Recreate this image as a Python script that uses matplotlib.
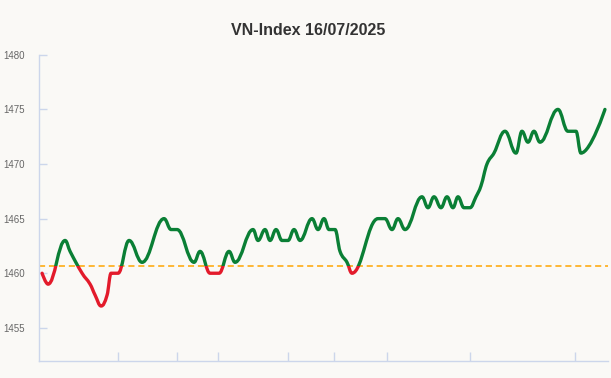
import numpy as np
import matplotlib
matplotlib.use('Agg')
import matplotlib.pyplot as plt
from matplotlib.path import Path
from matplotlib.patches import PathPatch, Rectangle

plt.rcParams['font.family'] = ['Liberation Sans', 'DejaVu Sans']

# intraday points (t = position along the session axis, v = index value)
t = [3, 9, 26, 31, 43, 51, 56, 62, 68, 72, 79, 90, 103, 125, 132, 138,
     155, 161, 171, 180, 190, 196, 214, 219, 226, 231, 237, 243, 249, 255,
     261, 273, 279, 285, 290, 296, 301, 308, 313, 339, 346, 353, 359, 366,
     383, 389, 395, 402, 408, 414, 419, 425, 431, 437, 442, 448, 455, 466,
     477, 483, 489, 495, 501, 519, 529, 537, 542, 566]
v = [1460, 1459, 1463, 1462, 1460, 1459, 1458, 1457, 1458, 1460, 1460, 1463,
     1461, 1465, 1464, 1464, 1461, 1462, 1460, 1460, 1462, 1461, 1464, 1463,
     1464, 1463, 1464, 1463, 1463, 1464, 1463, 1465, 1464, 1465, 1464, 1464,
     1462, 1461, 1460, 1465, 1465, 1464, 1465, 1464, 1467, 1466, 1467, 1466,
     1467, 1466, 1467, 1466, 1466, 1467, 1468, 1470, 1471, 1473, 1471, 1473,
     1472, 1473, 1472, 1475, 1473, 1473, 1471, 1475]
ref_close = 1460.64
x_ticks = [79, 137.5, 178.5, 249, 295, 348, 430.6, 536]
y_ticks = [1455, 1460, 1465, 1470, 1475, 1480]

GREEN = '#0a7f35'
RED = '#e31b2b'
AXIS = '#ccd6eb'
BG = '#faf9f6'


def spline_path(xs, ys, smoothing=1.5):
    # same control point rule as a highcharts "spline" series
    n = len(xs)
    left = [None] * n
    right = [None] * n
    right[0] = (xs[0], ys[0])
    left[-1] = (xs[-1], ys[-1])
    d = smoothing + 1
    for i in range(1, n - 1):
        px, py = xs[i], ys[i]
        lx, ly = xs[i - 1], ys[i - 1]
        nx, ny = xs[i + 1], ys[i + 1]
        lcx = (smoothing * px + lx) / d
        lcy = (smoothing * py + ly) / d
        rcx = (smoothing * px + nx) / d
        rcy = (smoothing * py + ny) / d
        if rcx != lcx:
            corr = (rcy - lcy) * (rcx - px) / (rcx - lcx) + py - rcy
            lcy += corr
            rcy += corr
        if lcy > ly and lcy > py:
            lcy = max(ly, py); rcy = 2 * py - lcy
        elif lcy < ly and lcy < py:
            lcy = min(ly, py); rcy = 2 * py - lcy
        if rcy > ny and rcy > py:
            rcy = max(ny, py); lcy = 2 * py - rcy
        elif rcy < ny and rcy < py:
            rcy = min(ny, py); lcy = 2 * py - rcy
        left[i] = (lcx, lcy)
        right[i] = (rcx, rcy)
    verts = [(xs[0], ys[0])]
    codes = [Path.MOVETO]
    for i in range(1, n):
        verts += [right[i - 1], left[i], (xs[i], ys[i])]
        codes += [Path.CURVE4] * 3
    return Path(verts, codes)


fig = plt.figure(figsize=(6.11, 3.78), dpi=100, facecolor=BG)
ax = fig.add_axes([0.064, 0.046, 0.931, 0.809])
ax.set_facecolor(BG)

xmin, xmax = 0, 569
ymin, ymax = 1452, 1480
ax.set_xlim(xmin, xmax)
ax.set_ylim(ymin, ymax)

ax.axhline(ref_close, color='#ffa500', lw=1.1, ls=(0, (4, 2.5)), zorder=2)

path = spline_path(t, v)
for color, y0, y1 in [(GREEN, ref_close, ymax + 5), (RED, ymin - 5, ref_close)]:
    patch = PathPatch(path, fill=False, edgecolor=color, lw=2.4,
                      capstyle='round', joinstyle='round', zorder=3)
    ax.add_patch(patch)
    clip = Rectangle((xmin - 10, y0), xmax - xmin + 20, y1 - y0, transform=ax.transData)
    patch.set_clip_path(clip)

for s in ['top', 'right']:
    ax.spines[s].set_visible(False)
for s in ['left', 'bottom']:
    ax.spines[s].set_color(AXIS)
    ax.spines[s].set_linewidth(1)

ax.set_yticks(y_ticks)
ax.set_yticklabels([str(y) for y in y_ticks])
ax.tick_params(axis='y', direction='in', length=6, width=1, color=AXIS,
               labelsize=7, labelcolor='#666666', pad=10)
ax.set_xticks(x_ticks)
ax.set_xticklabels([])
ax.tick_params(axis='x', direction='in', length=6.5, width=1, color=AXIS)

fig.text(0.505, 0.92, 'VN-Index 16/07/2025', ha='center', va='center',
         fontsize=11.5, fontweight='bold', color='#333333')

fig.savefig('out.png', dpi=100, facecolor=BG)
